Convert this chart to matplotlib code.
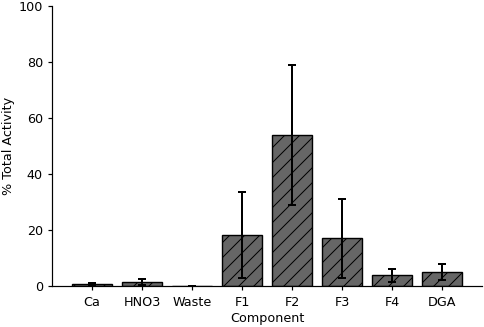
import matplotlib
matplotlib.use("Agg")
import matplotlib.pyplot as plt

categories = ["Ca", "HNO3", "Waste", "F1", "F2", "F3", "F4", "DGA"]
values = [0.6, 1.5, 0.05, 18.2, 54.0, 17.0, 3.8, 5.0]
errors = [0.4, 1.0, 0.0, 15.5, 25.0, 14.0, 2.2, 3.0]

DPI = 90


def px(n):
    return n * 72.0 / DPI


FS = px(12.8)
plt.rcParams['hatch.linewidth'] = px(1.0)
plt.rcParams['axes.linewidth'] = px(1.2)
plt.rcParams['xtick.major.width'] = px(1.2)
plt.rcParams['ytick.major.width'] = px(1.2)
plt.rcParams['xtick.major.size'] = px(4)
plt.rcParams['ytick.major.size'] = px(4)
plt.rcParams['xtick.major.pad'] = px(6)
plt.rcParams['ytick.major.pad'] = px(5)

fig = plt.figure(figsize=(484 / DPI, 327 / DPI), dpi=DPI)
ax = fig.add_axes([52/484, 41/327, 430/484, 280/327])
x = list(range(len(categories)))
ax.bar(x, values, width=0.8, color="#666666", edgecolor="black", hatch="//",
       linewidth=px(1.4), yerr=errors, capsize=px(4),
       error_kw=dict(ecolor="black", elinewidth=px(2), capthick=px(2)))
ax.set_xticks(x)
ax.set_xticklabels(categories)
ax.set_ylim(0, 100)
ax.set_xlim(-0.8, 7.8)
ax.spines['top'].set_visible(False)
ax.spines['right'].set_visible(False)
ax.set_ylabel("% Total Activity", fontsize=FS, labelpad=px(4))
ax.set_xlabel("Component", fontsize=FS, labelpad=px(3))
ax.tick_params(labelsize=FS)
fig.savefig("out.png", dpi=DPI)
